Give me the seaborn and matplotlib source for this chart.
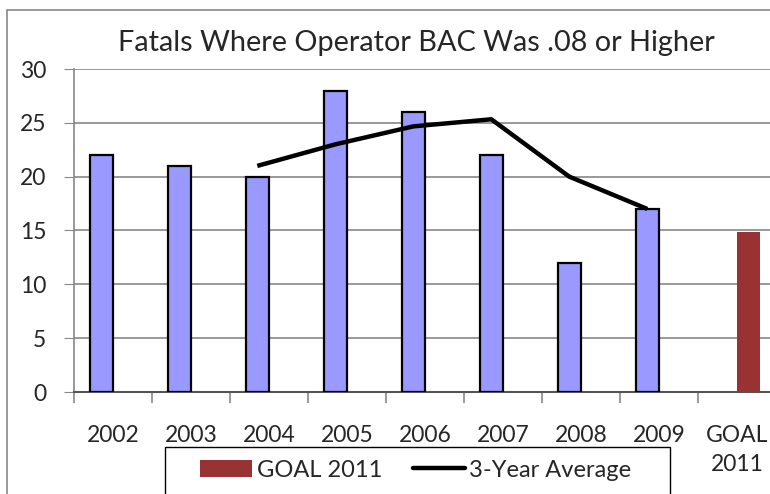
import matplotlib
matplotlib.use("Agg")
import matplotlib.pyplot as plt
import seaborn as sns
import pandas as pd
from matplotlib.patches import Patch, Rectangle
from matplotlib.lines import Line2D
from matplotlib.colors import to_rgba

categories = ["2002", "2003", "2004", "2005", "2006", "2007", "2008", "2009", "GOAL\n2011"]
series = ["Fatals"] * 8 + ["GOAL 2011"]
fatals = [22, 21, 20, 28, 26, 22, 12, 17, 14.9]
avg_years = ["2004", "2005", "2006", "2007", "2008", "2009"]
avg_values = [21, 23, 24.67, 25.33, 20, 17]
y_ticks = [0, 5, 10, 15, 20, 25, 30]

BLUE = "#9999FF"
RED = "#993333"

sns.set_style("white")
plt.rcParams['font.family'] = ['Lato', 'DejaVu Sans']

fig = plt.figure(figsize=(7.7, 4.94), dpi=100)
ax = fig.add_axes([74/770, 1 - 392/494, (776 - 74)/770, (392 - 69)/494])

df = pd.DataFrame({"cat": categories, "val": fatals, "series": series})
sns.barplot(data=df, x="cat", y="val", hue="series", hue_order=["Fatals", "GOAL 2011"],
            palette={"Fatals": BLUE, "GOAL 2011": RED}, legend=False, dodge=True,
            width=0.6, ax=ax, saturation=1, zorder=3)
for p in ax.patches:
    if to_rgba(p.get_facecolor())[:3] == to_rgba(BLUE)[:3]:
        p.set_edgecolor("black")
        p.set_linewidth(1.6)
    else:
        p.set_edgecolor("none")

bar_offset = -0.15
xpos = [categories.index(y) + bar_offset for y in avg_years]
ax.plot(xpos, avg_values, color="black", linewidth=3.2, zorder=4, solid_capstyle="butt")

ax.set_ylim(0, 30)
ax.set_xlim(-0.5, 8.5)
ax.set_yticks(y_ticks)
ax.yaxis.grid(True, color="#888888", linewidth=1.2, zorder=0)
ax.set_axisbelow(True)
for s in ["top", "right"]:
    ax.spines[s].set_visible(False)
ax.spines["left"].set_color("#888888")
ax.spines["left"].set_linewidth(1.2)
ax.spines["bottom"].set_color("#555555")
ax.spines["bottom"].set_linewidth(1.5)
ax.tick_params(axis="y", which="major", direction="out", length=7, color="#888888",
               labelsize=16.5, pad=13, left=True)
ax.set_xticks([i - 0.5 for i in range(10)], minor=True)
ax.tick_params(axis="x", which="minor", direction="out", length=8, color="#888888", width=1.2, bottom=True)
ax.tick_params(axis="x", which="major", length=0, labelsize=16.5, pad=24)
ax.set_xlabel("")
ax.set_ylabel("")
for lbl in ax.get_xticklabels():
    lbl.set_verticalalignment("top")
    lbl.set_linespacing(1.45)

fig.text(416/770, 1 - 43/494, "Fatals Where Operator BAC Was .08 or Higher",
         ha="center", va="center", fontsize=20.8)

fig.patches.append(Rectangle((7/770, -0.1), 1.2, 1 - 10/494 + 0.1, transform=fig.transFigure,
                             fill=False, edgecolor="#888888", linewidth=1.2))

# legend frame
fig.patches.append(Rectangle((165/770, -0.05), (670 - 165)/770, 0.05 + 1 - 447/494,
                             transform=fig.transFigure, fill=False, edgecolor="black",
                             linewidth=1, zorder=5))

handles = [Patch(facecolor=RED, edgecolor="none"),
           Line2D([0], [0], color="black", linewidth=3.2)]
leg = fig.legend(handles, ["GOAL 2011", "3-Year Average"], ncol=2, loc="center left",
                 bbox_to_anchor=(200/770, 1 - 470/494), frameon=False,
                 fontsize=17, handlelength=2.2, columnspacing=1.3, borderpad=0,
                 handletextpad=0.2, borderaxespad=0)

fig.savefig("out.png", dpi=100)
